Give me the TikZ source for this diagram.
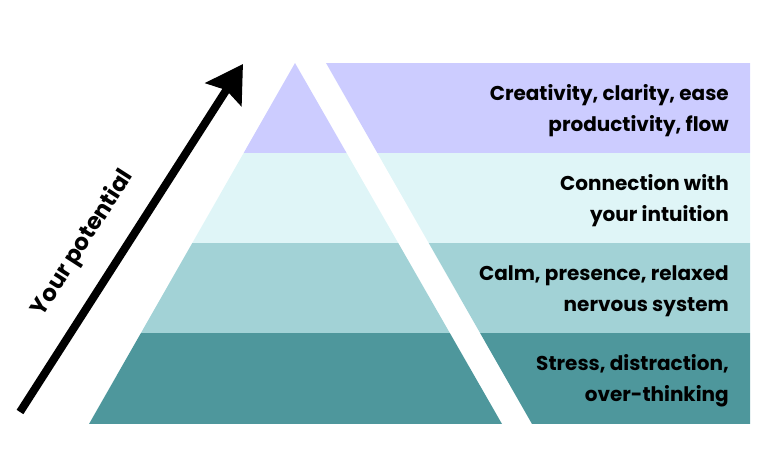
\documentclass[tikz,border=0pt]{standalone}
\usepackage{fontspec}
\setmainfont{Poppins}
\usetikzlibrary{arrows.meta}
\definecolor{bandA}{HTML}{CCCCFF}
\definecolor{bandB}{HTML}{DFF5F7}
\definecolor{bandC}{HTML}{A2D2D6}
\definecolor{bandD}{HTML}{4E979C}
\tikzset{
  lbl/.style={anchor=east, align=right, font=\fontsize{20}{31}\selectfont\bfseries, text=black, inner sep=0pt},
}
\begin{document}
\begin{tikzpicture}[x=1pt,y=-1pt]
\useasboundingbox (0,0) rectangle (768,465);
% pyramid
\begin{scope}
\clip (295,63) -- (502,424) -- (89,424) -- cycle;
\fill[bandA] (80,63) rectangle (520,153);
\fill[bandB] (80,153) rectangle (520,243);
\fill[bandC] (80,243) rectangle (520,333);
\fill[bandD] (80,333) rectangle (520,424);
\end{scope}
% panel
\begin{scope}
\clip (326,63) -- (750,63) -- (750,424) -- (532,424) -- cycle;
\fill[bandA] (320,63) rectangle (760,153);
\fill[bandB] (320,153) rectangle (760,243);
\fill[bandC] (320,243) rectangle (760,333);
\fill[bandD] (320,333) rectangle (760,424);
\end{scope}
% labels
\node[lbl] (t1) at (729,111) {Creativity, clarity, ease\\productivity, flow};
\node[lbl] (t2) at (729,201) {Connection with\\your intuition};
\node[lbl] (t3) at (729,291) {Calm, presence, relaxed\\nervous system};
\node[lbl] (t4) at (729,381) {Stress, distraction,\\over-thinking};
% arrow
\coordinate (tail) at (20,412);
\coordinate (tip) at (243,64);
\draw[line width=8pt, -{Stealth[length=36pt,width=42pt,inset=5pt]}] (tail) -- (tip);
\node[font=\fontsize{23}{26}\selectfont\bfseries, rotate=57.3, inner sep=0pt] (pot) at (83,243) {Your potential};
\end{tikzpicture}
\end{document}
